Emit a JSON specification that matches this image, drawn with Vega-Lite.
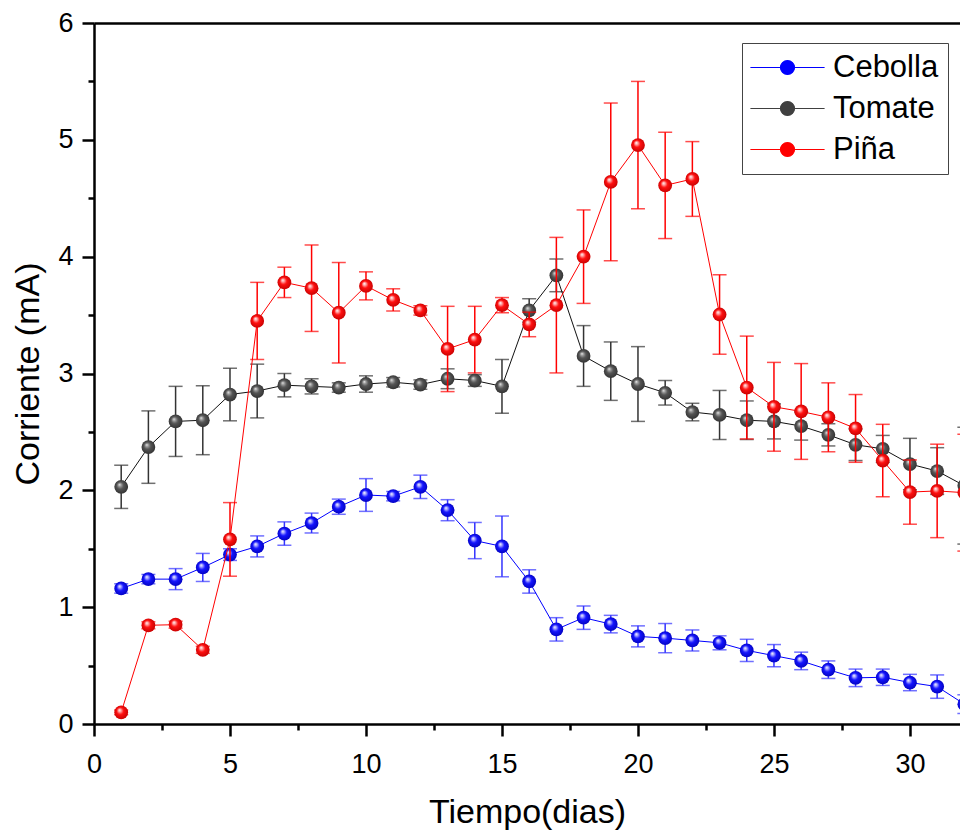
{
  "$schema": "https://vega.github.io/schema/vega-lite/v6.json",
  "width": 866,
  "height": 701,
  "autosize": {"type": "none"},
  "padding": {"left": 94, "top": 23, "right": 0, "bottom": 112},
  "background": "white",
  "config": {"view": {"stroke": null}, "font": "Liberation Sans"},
  "data": {"values": [
    {"day":1,"s":"Cebolla","v":1.16,"e":0.04},{"day":2,"s":"Cebolla","v":1.24,"e":0.04},{"day":3,"s":"Cebolla","v":1.24,"e":0.09},{"day":4,"s":"Cebolla","v":1.34,"e":0.12},
    {"day":5,"s":"Cebolla","v":1.45,"e":0.05},{"day":6,"s":"Cebolla","v":1.52,"e":0.09},{"day":7,"s":"Cebolla","v":1.63,"e":0.1},{"day":8,"s":"Cebolla","v":1.72,"e":0.085},
    {"day":9,"s":"Cebolla","v":1.86,"e":0.065},{"day":10,"s":"Cebolla","v":1.96,"e":0.14},{"day":11,"s":"Cebolla","v":1.95,"e":0.04},{"day":12,"s":"Cebolla","v":2.03,"e":0.1},
    {"day":13,"s":"Cebolla","v":1.83,"e":0.09},{"day":14,"s":"Cebolla","v":1.57,"e":0.155},{"day":15,"s":"Cebolla","v":1.52,"e":0.26},{"day":16,"s":"Cebolla","v":1.22,"e":0.1},
    {"day":17,"s":"Cebolla","v":0.81,"e":0.1},{"day":18,"s":"Cebolla","v":0.91,"e":0.1},{"day":19,"s":"Cebolla","v":0.855,"e":0.075},{"day":20,"s":"Cebolla","v":0.75,"e":0.09},
    {"day":21,"s":"Cebolla","v":0.735,"e":0.125},{"day":22,"s":"Cebolla","v":0.715,"e":0.09},{"day":23,"s":"Cebolla","v":0.695,"e":0.06},{"day":24,"s":"Cebolla","v":0.63,"e":0.095},
    {"day":25,"s":"Cebolla","v":0.585,"e":0.095},{"day":26,"s":"Cebolla","v":0.54,"e":0.075},{"day":27,"s":"Cebolla","v":0.465,"e":0.075},{"day":28,"s":"Cebolla","v":0.395,"e":0.075},
    {"day":29,"s":"Cebolla","v":0.4,"e":0.07},{"day":30,"s":"Cebolla","v":0.355,"e":0.07},{"day":31,"s":"Cebolla","v":0.32,"e":0.1},{"day":32,"s":"Cebolla","v":0.17,"e":0.08},
    {"day":1,"s":"Tomate","v":2.03,"e":0.185},{"day":2,"s":"Tomate","v":2.37,"e":0.31},{"day":3,"s":"Tomate","v":2.59,"e":0.3},{"day":4,"s":"Tomate","v":2.6,"e":0.295},
    {"day":5,"s":"Tomate","v":2.82,"e":0.225},{"day":6,"s":"Tomate","v":2.85,"e":0.23},{"day":7,"s":"Tomate","v":2.9,"e":0.1},{"day":8,"s":"Tomate","v":2.89,"e":0.065},
    {"day":9,"s":"Tomate","v":2.88,"e":0.04},{"day":10,"s":"Tomate","v":2.91,"e":0.07},{"day":11,"s":"Tomate","v":2.925,"e":0.04},{"day":12,"s":"Tomate","v":2.905,"e":0.04},
    {"day":13,"s":"Tomate","v":2.955,"e":0.085},{"day":14,"s":"Tomate","v":2.94,"e":0.05},{"day":15,"s":"Tomate","v":2.89,"e":0.23},{"day":16,"s":"Tomate","v":3.54,"e":0.1},
    {"day":17,"s":"Tomate","v":3.84,"e":0.14},{"day":18,"s":"Tomate","v":3.15,"e":0.26},{"day":19,"s":"Tomate","v":3.02,"e":0.25},{"day":20,"s":"Tomate","v":2.91,"e":0.32},
    {"day":21,"s":"Tomate","v":2.835,"e":0.105},{"day":22,"s":"Tomate","v":2.67,"e":0.075},{"day":23,"s":"Tomate","v":2.645,"e":0.21},{"day":24,"s":"Tomate","v":2.6,"e":0.165},
    {"day":25,"s":"Tomate","v":2.59,"e":0.15},{"day":26,"s":"Tomate","v":2.55,"e":0.12},{"day":27,"s":"Tomate","v":2.475,"e":0.095},{"day":28,"s":"Tomate","v":2.39,"e":0.135},
    {"day":29,"s":"Tomate","v":2.355,"e":0.115},{"day":30,"s":"Tomate","v":2.225,"e":0.22},{"day":31,"s":"Tomate","v":2.165,"e":0.2},{"day":32,"s":"Tomate","v":2.04,"e":0.5},
    {"day":1,"s":"Piña","v":0.1,"e":0.02},{"day":2,"s":"Piña","v":0.845,"e":0.03},{"day":3,"s":"Piña","v":0.85,"e":0.03},{"day":4,"s":"Piña","v":0.635,"e":0.03},
    {"day":5,"s":"Piña","v":1.58,"e":0.315},{"day":6,"s":"Piña","v":3.45,"e":0.33},{"day":7,"s":"Piña","v":3.78,"e":0.13},{"day":8,"s":"Piña","v":3.73,"e":0.37},
    {"day":9,"s":"Piña","v":3.52,"e":0.43},{"day":10,"s":"Piña","v":3.75,"e":0.12},{"day":11,"s":"Piña","v":3.63,"e":0.095},{"day":12,"s":"Piña","v":3.54,"e":0.04},
    {"day":13,"s":"Piña","v":3.21,"e":0.365},{"day":14,"s":"Piña","v":3.29,"e":0.285},{"day":15,"s":"Piña","v":3.585,"e":0.065},{"day":16,"s":"Piña","v":3.42,"e":0.105},
    {"day":17,"s":"Piña","v":3.585,"e":0.58},{"day":18,"s":"Piña","v":4.0,"e":0.4},{"day":19,"s":"Piña","v":4.64,"e":0.675},{"day":20,"s":"Piña","v":4.955,"e":0.545},
    {"day":21,"s":"Piña","v":4.61,"e":0.455},{"day":22,"s":"Piña","v":4.665,"e":0.32},{"day":23,"s":"Piña","v":3.505,"e":0.34},{"day":24,"s":"Piña","v":2.88,"e":0.44},
    {"day":25,"s":"Piña","v":2.715,"e":0.38},{"day":26,"s":"Piña","v":2.675,"e":0.41},{"day":27,"s":"Piña","v":2.625,"e":0.295},{"day":28,"s":"Piña","v":2.53,"e":0.29},
    {"day":29,"s":"Piña","v":2.255,"e":0.31},{"day":30,"s":"Piña","v":1.985,"e":0.275},{"day":31,"s":"Piña","v":1.995,"e":0.4},{"day":32,"s":"Piña","v":1.98,"e":0.5}
  ]},
  "encoding": {
    "x": {"field": "day", "type": "quantitative", "scale": {"domain": [0, 31.84], "nice": false, "zero": false}, "axis": null},
    "y": {"field": "v", "type": "quantitative", "scale": {"domain": [0, 6], "nice": false},
      "axis": {
        "values": [0,0.5,1,1.5,2,2.5,3,3.5,4,4.5,5,5.5,6],
        "labelExpr": "datum.value % 1 === 0 ? format(datum.value, 'd') : ''",
        "tickSize": {"condition": {"test": "datum.value % 1 === 0", "value": 12}, "value": 6},
        "title": "Corriente (mA)", "grid": false,
        "domainColor": "black", "domainWidth": 2.5, "tickColor": "black", "tickWidth": 2.5,
        "labelFontSize": 27, "labelColor": "black", "labelPadding": 9, "labelFont": "Liberation Sans",
        "labelOverlap": false, "labelFlush": false,
        "titleFontSize": 34, "titleFontWeight": "normal", "titleColor": "black", "titleFont": "Liberation Sans", "titlePadding": 12
      }
    }
  },
  "layer": [
    {
      "mark": {"type": "circle", "size": 150, "opacity": 1},
      "encoding": {
        "x": {"field": "day", "type": "quantitative", "scale": {"domain": [0, 31.84], "nice": false, "zero": false},
          "axis": {
            "values": [0,2.5,5,7.5,10,12.5,15,17.5,20,22.5,25,27.5,30],
            "labelExpr": "datum.value % 5 === 0 ? format(datum.value, 'd') : ''",
            "tickSize": {"condition": {"test": "datum.value % 5 === 0", "value": 12}, "value": 6},
            "title": "Tiempo(dias)", "grid": false,
            "domainColor": "black", "domainWidth": 2.5, "tickColor": "black", "tickWidth": 2.5,
            "labelFontSize": 27, "labelColor": "black", "labelPadding": 15, "labelFont": "Liberation Sans",
            "labelOverlap": false, "labelFlush": false,
            "titleFontSize": 34, "titleFontWeight": "normal", "titleColor": "black", "titleFont": "Liberation Sans", "titlePadding": 18
          }
        },
        "color": {"field": "s", "type": "nominal",
          "scale": {"domain": ["Cebolla", "Tomate", "Piña"], "range": ["#0000ff", "#404040", "#ff0000"]},
          "legend": {
            "orient": "none", "legendX": 648, "legendY": 20, "title": null,
            "symbolType": "M-5.3,0H-1M1,0H5.3M-1,0A1,1 0 1,0 1,0A1,1 0 1,0 -1,0Z",
            "symbolSize": 196, "symbolStrokeWidth": 1.2, "symbolOffset": 21, "labelOffset": 30,
            "labelFontSize": 31, "labelFont": "Liberation Sans", "labelColor": "black", "labelLimit": 0,
            "strokeColor": "#444444", "fillColor": "white", "padding": 9, "rowPadding": 9, "symbolOpacity": 1
          }
        }
      }
    },
    {"transform": [{"filter": "datum.s === 'Cebolla'"}],
     "mark": {"type": "errorbar", "color": "#3333ff", "ticks": {"size": 14, "thickness": 1.5}, "rule": {"strokeWidth": 1.5}},
     "encoding": {"yError": {"field": "e"}}},
    {"transform": [{"filter": "datum.s === 'Cebolla'"}],
     "mark": {"type": "line", "strokeWidth": 1},
     "encoding": {
       "x": {"field": "day", "type": "quantitative", "scale": {"domain": [0, 31.84], "nice": false, "zero": false},
         "axis": {"orient": "top", "domain": true, "ticks": false, "labels": false, "title": null, "grid": false, "domainColor": "black", "domainWidth": 2.5}},
       "color": {"field": "s", "type": "nominal"}}},
    {"transform": [{"filter": "datum.s === 'Cebolla'"}],
     "mark": {"type": "circle", "size": 190, "opacity": 1,
       "fill": {"gradient": "radial", "x1": 0.37, "y1": 0.33, "r1": 0, "x2": 0.5, "y2": 0.5, "r2": 0.56,
         "stops": [{"offset": 0, "color": "#ffffff"}, {"offset": 0.2, "color": "#a0a0ff"}, {"offset": 0.45, "color": "#1414ff"}, {"offset": 1, "color": "#0000b8"}]}}},
    {"transform": [{"filter": "datum.s === 'Tomate'"}],
     "mark": {"type": "errorbar", "color": "#333333", "ticks": {"size": 14, "thickness": 1.5}, "rule": {"strokeWidth": 1.5}},
     "encoding": {"yError": {"field": "e"}}},
    {"transform": [{"filter": "datum.s === 'Tomate'"}],
     "mark": {"type": "line", "strokeWidth": 1, "color": "#111111"},
     "encoding": {}},
    {"transform": [{"filter": "datum.s === 'Tomate'"}],
     "mark": {"type": "circle", "size": 190, "opacity": 1,
       "fill": {"gradient": "radial", "x1": 0.37, "y1": 0.33, "r1": 0, "x2": 0.5, "y2": 0.5, "r2": 0.56,
         "stops": [{"offset": 0, "color": "#eeeeee"}, {"offset": 0.2, "color": "#9a9a9a"}, {"offset": 0.45, "color": "#555555"}, {"offset": 1, "color": "#2e2e2e"}]}}},
    {"transform": [{"filter": "datum.s === 'Piña'"}],
     "mark": {"type": "errorbar", "color": "#ff0000", "ticks": {"size": 14, "thickness": 1.5}, "rule": {"strokeWidth": 1.5}},
     "encoding": {"yError": {"field": "e"}}},
    {"transform": [{"filter": "datum.s === 'Piña'"}],
     "mark": {"type": "line", "strokeWidth": 1},
     "encoding": {"color": {"field": "s", "type": "nominal"}}},
    {"transform": [{"filter": "datum.s === 'Piña'"}],
     "mark": {"type": "circle", "size": 190, "opacity": 1,
       "fill": {"gradient": "radial", "x1": 0.37, "y1": 0.33, "r1": 0, "x2": 0.5, "y2": 0.5, "r2": 0.56,
         "stops": [{"offset": 0, "color": "#ffffff"}, {"offset": 0.2, "color": "#ffa0a0"}, {"offset": 0.45, "color": "#ff1010"}, {"offset": 1, "color": "#c00000"}]}}}
  ],
  "resolve": {"axis": {"x": "independent"}}
}
